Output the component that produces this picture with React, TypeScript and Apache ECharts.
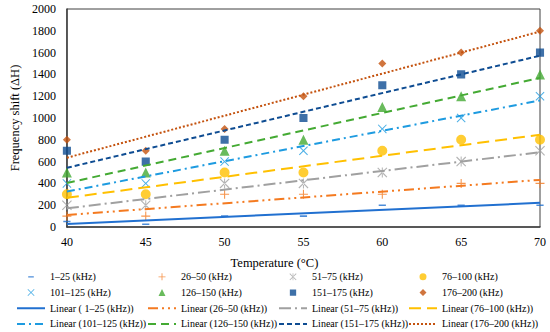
import React, { useEffect, useRef } from "react";
import * as echarts from "echarts";

const temperatures = [40, 45, 50, 55, 60, 65, 70];
const xTicks = [40, 45, 50, 55, 60, 65, 70];
const yTicks = [0, 200, 400, 600, 800, 1000, 1200, 1400, 1600, 1800, 2000];

const bandNames = [
  "1–25 (kHz)",
  "26–50 (kHz)",
  "51–75 (kHz)",
  "76–100 (kHz)",
  "101–125 (kHz)",
  "126–150 (kHz)",
  "151–175 (kHz)",
  "176–200 (kHz)",
];
const trendNames = [
  "Linear ( 1–25 (kHz))",
  "Linear (26–50 (kHz))",
  "Linear (51–75 (kHz))",
  "Linear (76–100 (kHz))",
  "Linear (101–125 (kHz))",
  "Linear (126–150 (kHz))",
  "Linear (151–175 (kHz))",
  "Linear (176–200 (kHz))",
];

const band1 = [50, 25, 100, 100, 200, 200, 200];
const band2 = [100, 100, 300, 300, 300, 400, 400];
const band3 = [200, 200, 400, 400, 500, 600, 700];
const band4 = [300, 300, 500, 500, 700, 800, 800];
const band5 = [400, 400, 600, 700, 900, 1000, 1200];
const band6 = [500, 500, 700, 800, 1100, 1200, 1400];
const band7 = [700, 600, 800, 1000, 1300, 1400, 1600];
const band8 = [800, 700, 900, 1200, 1500, 1600, 1800];
const bands = [band1, band2, band3, band4, band5, band6, band7, band8];

const colors = ["#2170D0", "#F47A20", "#A0A0A0", "#FFC000", "#1E9BE0", "#44AA33", "#0E4C92", "#C4520E"];

// marker shapes in a 10x10 box
const SHAPE_DASH = "M1,4.1h8v1.8h-8z";
const SHAPE_PLUS = "M4.4,0h1.2v4.4h4.4v1.2h-4.4v4.4h-1.2v-4.4h-4.4v-1.2h4.4z";
const SHAPE_X = "M0,0.8L0.8,0L5,4.2L9.2,0L10,0.8L5.8,5L10,9.2L9.2,10L5,5.8L0.8,10L0,9.2L4.2,5Z";
const SHAPE_AST =
  "M0,0.8L0.8,0L4.5,3.7V0h1v3.7L9.2,0L10,0.8L5.5,5.3V10h-1V5.3L0,0.8Z M0,9.2L4.6,4.6L5.4,5.4L0.8,10Z M10,9.2L5.4,4.6L4.6,5.4L9.2,10Z";
const SHAPE_CIRCLE = "M10,5A5,5 0 1 1 0,5A5,5 0 1 1 10,5Z";
const SHAPE_TRI = "M5,0L10,10L0,10Z";
const SHAPE_RECT = "M0.5,0.5h9v9h-9z";
const SHAPE_DIAMOND = "M5,0L10,5L5,10L0,5Z";
const shapes = [SHAPE_DASH, SHAPE_PLUS, SHAPE_AST, SHAPE_CIRCLE, SHAPE_X, SHAPE_TRI, SHAPE_RECT, SHAPE_DIAMOND];
const symbolSizes = [9, 9, 10, 10, 9, 10, 9, 8];
const dashTypes: any[] = [
  "solid",
  [10, 4, 2, 4, 2, 4],
  [12, 4, 2, 4],
  [12, 6],
  [8, 4, 2, 4],
  [8, 5],
  [5, 3],
  [2, 2],
];

const legendColumns = [
  [bandNames[0], bandNames[4], trendNames[0], trendNames[4]],
  [bandNames[1], bandNames[5], trendNames[1], trendNames[5]],
  [bandNames[2], bandNames[6], trendNames[2], trendNames[6]],
  [bandNames[3], bandNames[7], trendNames[3], trendNames[7]],
];
const legendLefts = [16, 147, 278, 408];

// tiny invisible corner specks fix the bounding box of a path symbol
function squareSymbol(shape: string) {
  return "path://M0,0h0.01v0.01h-0.01z M9.99,9.99h0.01v0.01h-0.01z " + shape;
}
// legend icon box is 28x7 (4:1); place the 10x10 shape in the middle of a 40x10 box
function translatePath(shape: string, dx: number) {
  // shift absolute commands' x coordinates
  return shape.replace(/([MLAVHhvz]|[A-Za-z])([^A-Za-z]*)/g, (m, cmd, args) => {
    const nums = args.trim().length ? args.trim().split(/[\s,]+/).map(Number) : [];
    if (cmd === "M" || cmd === "L") {
      const out = nums.map((v: number, k: number) => (k % 2 === 0 ? v + dx : v));
      return cmd + out.join(",");
    }
    if (cmd === "A") {
      const out = nums.map((v: number, k: number) => (k % 7 === 5 ? v + dx : v));
      return cmd + out.join(" ");
    }
    return m;
  });
}
function legendIcon(shape: string) {
  return "path://M0,0h0.01v0.01h-0.01z M39.99,9.99h0.01v0.01h-0.01z " + translatePath(shape, 15);
}

function linearFit(xs: number[], ys: number[]) {
  const n = xs.length;
  const mx = xs.reduce((a, b) => a + b, 0) / n;
  const my = ys.reduce((a, b) => a + b, 0) / n;
  let sxy = 0;
  let sxx = 0;
  for (let i = 0; i < n; i++) {
    sxy += (xs[i] - mx) * (ys[i] - my);
    sxx += (xs[i] - mx) * (xs[i] - mx);
  }
  const slope = sxy / sxx;
  const intercept = my - slope * mx;
  return (x: number) => intercept + slope * x;
}

const FONT = "Liberation Serif";

export default function App() {
  const ref = useRef<HTMLDivElement>(null);
  useEffect(() => {
    if (!ref.current) return;
    const chart = echarts.init(ref.current, undefined, { renderer: "svg" });
    const xMin = temperatures[0];
    const xMax = temperatures[temperatures.length - 1];
    const scatterSeries = bands.map((ys, i) => ({
      name: bandNames[i],
      type: "scatter",
      data: temperatures.map((t, j) => [t, ys[j]]),
      symbol: squareSymbol(shapes[i]),
      symbolSize: symbolSizes[i],
      itemStyle: { color: colors[i] },
      z: 2,
    }));
    const lineSeries = bands.map((ys, i) => {
      const f = linearFit(temperatures, ys);
      return {
        name: trendNames[i],
        type: "line",
        data: [
          [xMin, f(xMin)],
          [xMax, f(xMax)],
        ],
        symbol: "none",
        showSymbol: false,
        lineStyle: { color: colors[i], width: 2, type: dashTypes[i] },
        itemStyle: { color: colors[i] },
        z: 3,
      };
    });
    const legends = legendColumns.map((col, i) => ({
      orient: "vertical",
      left: legendLefts[i],
      top: 269,
      height: 70,
      padding: 0,
      itemWidth: 28,
      itemHeight: 7,
      itemGap: 0,
      selectedMode: false,
      data: col.map((name) => {
        if (name.startsWith("Linear")) return { name, itemStyle: { opacity: 0 } };
        const k = bandNames.indexOf(name);
        return { name, icon: legendIcon(shapes[k]) };
      }),
      textStyle: { fontFamily: FONT, fontSize: 10, color: "#000", lineHeight: 15.7 },
    }));
    chart.setOption({
      animation: false,
      backgroundColor: "#fff",
      grid: {
        left: 58,
        right: 10,
        top: 9,
        bottom: 105,
        show: true,
        borderColor: "#404040",
        borderWidth: 1,
        backgroundColor: "transparent",
      },
      legend: legends,
      xAxis: {
        type: "value",
        min: xTicks[0],
        max: xTicks[xTicks.length - 1],
        interval: 5,
        name: "Temperature (°C)",
        nameLocation: "middle",
        nameGap: 29,
        nameTextStyle: { fontFamily: FONT, fontSize: 12.5, color: "#000", padding: [0, 58, 0, 0] },
        axisLine: { show: true, lineStyle: { color: "#404040", width: 1.5 } },
        axisTick: { show: false },
        splitLine: { show: false },
        axisLabel: { fontFamily: FONT, fontSize: 12, color: "#000", margin: 9 },
      },
      yAxis: {
        type: "value",
        min: yTicks[0],
        max: yTicks[yTicks.length - 1],
        interval: 200,
        name: "Frequency shift (ΔH)",
        nameLocation: "middle",
        nameGap: 44,
        nameRotate: 90,
        nameTextStyle: { fontFamily: FONT, fontSize: 12.5, color: "#000" },
        axisLine: { show: true, lineStyle: { color: "#404040", width: 1.5 } },
        axisTick: { show: false },
        splitLine: { show: false },
        axisLabel: {
          fontFamily: FONT,
          fontSize: 12,
          color: "#000",
          margin: 11,
          formatter: (v: number) => String(v),
        },
      },
      series: [...scatterSeries, ...lineSeries],
    });
    return () => chart.dispose();
  }, []);
  return (
    <div
      ref={ref}
      style={{ position: "fixed", left: 0, top: 0, width: 550, height: 332, background: "#fff" }}
    />
  );
}
